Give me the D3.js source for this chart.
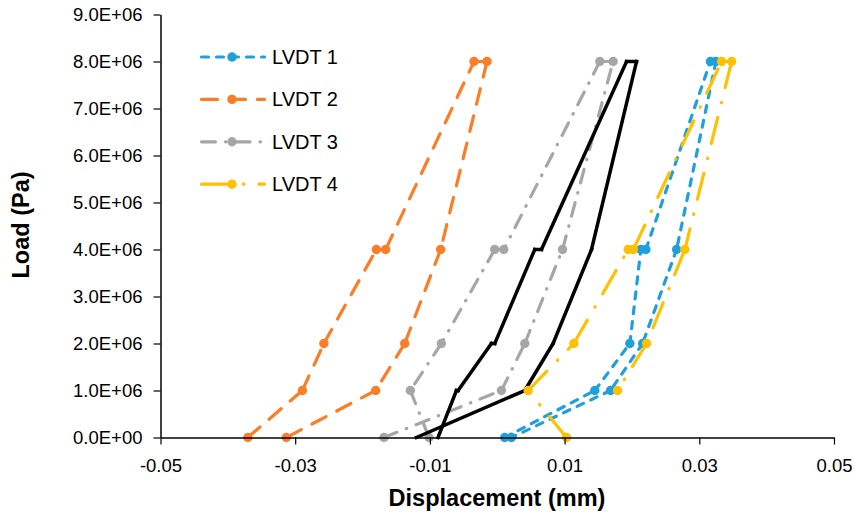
<!DOCTYPE html>
<html>
<head>
<meta charset="utf-8">
<script src="https://cdn.jsdelivr.net/npm/d3@7"></script>
<style>
  body { margin: 0; background: #fff; }
  svg { display: block; font-family: "Liberation Sans", Arial, sans-serif; }
</style>
</head>
<body>
<div id="chart"></div>
<script>
(function(){

  // loads in Pa (loading then unloading, holds repeat the value)
  var loadA = [0, 1e6, 2e6, 4e6, 4e6, 8e6, 8e6, 4e6, 2e6, 1e6, 0];
  var loadB = [0, 1e6, 2e6, 4e6, 4e6, 8e6, 8e6, 4e6, 2e6, 1e6];
  var loadC = [0, 1e6, 2e6, 4e6, 8e6, 8e6, 4e6, 4e6, 2e6, 1e6, 0];
  var loadBlack = [0, 1e6, 2e6, 4e6, 8e6, 8e6, 4e6, 4e6, 2e6, 2e6, 1e6, 1e6, 0];

  // displacement in mm
  var lvdt1 = [0.00111, 0.01449, 0.01969, 0.02132, 0.02207, 0.03165, 0.03247, 0.02663, 0.02158, 0.01682, 0.00211];
  var lvdt2 = [-0.03703, -0.02894, -0.02574, -0.01795, -0.01657, -0.00345, -0.00152, -0.00840, -0.01374, -0.01805, -0.03132];
  var lvdt3 = [-0.01682, 0.00062, 0.00409, 0.00969, 0.01721, 0.01523, 0.00097, -0.00037, -0.00829, -0.01290, -0.01013];
  var lvdt4 = [0.01028, 0.00458, 0.01137, 0.01944, 0.02021, 0.03331, 0.03480, 0.02786, 0.02217, 0.01786];
  var blackLine = [-0.01201, 0.00409, 0.00829, 0.01400, 0.02068, 0.01920, 0.00657, 0.00557, -0.00037, -0.00086, -0.00582, -0.00606, -0.00880];

  var xTicks = [-0.05, -0.03, -0.01, 0.01, 0.03, 0.05];
  var yTicks = [0, 1e6, 2e6, 3e6, 4e6, 5e6, 6e6, 7e6, 8e6, 9e6];

  var series = [
    {name: "LVDT 1", x: lvdt1, y: loadA, color: "#1f9fdb", dash: "7,8", marker: true},
    {name: "LVDT 2", x: lvdt2, y: loadA, color: "#fb7d27", dash: "16,12", marker: true},
    {name: "LVDT 3", x: lvdt3, y: loadC, color: "#a6a6a6", dash: "14,10,0.5,10", marker: true},
    {name: null, x: blackLine, y: loadBlack, color: "#000", dash: null, marker: false},
    {name: "LVDT 4", x: lvdt4, y: loadB, color: "#ffc000", dash: "27,15,0.5,15", marker: true}
  ];

  var width = 854, height = 517;
  var left = 160.5, right = 834, top = 14.5, bottom = 437.5;

  var svg = d3.select("#chart").append("svg")
    .attr("width", width)
    .attr("height", height);

  svg.append("rect").attr("width", width).attr("height", height).attr("fill", "#fff");

  var x = d3.scaleLinear().domain([-0.05, 0.05]).range([left, right]);
  var y = d3.scaleLinear().domain([0, 9e6]).range([bottom, top]);

  function sci(v){
    var s = v.toExponential(1).split("e");
    var e = parseInt(s[1]);
    var es = (e < 0 ? "-" : "+") + (Math.abs(e) < 10 ? "0" : "") + Math.abs(e);
    return s[0] + "E" + es;
  }

  var line = d3.line().x(function(d){ return x(d[0]); }).y(function(d){ return y(d[1]); });

  // each segment drawn alone so the dash pattern restarts at every point
  series.forEach(function(s){
    var g = svg.append("g");
    for (var i = 0; i < s.x.length - 1; i++){
      g.append("path")
        .attr("d", line([[s.x[i], s.y[i]], [s.x[i+1], s.y[i+1]]]))
        .attr("fill", "none")
        .attr("stroke", s.color)
        .attr("stroke-width", s.marker ? 3.2 : 3.5)
        .attr("stroke-linecap", s.dash ? "round" : "square")
        .attr("stroke-dasharray", s.dash);
    }
    if (s.marker){
      g.selectAll("circle")
        .data(s.x.map(function(v, i){ return [v, s.y[i]]; }))
        .enter().append("circle")
        .attr("cx", function(d){ return x(d[0]); })
        .attr("cy", function(d){ return y(d[1]); })
        .attr("r", 4.7)
        .attr("fill", s.color);
    }
  });

  var xAxis = svg.append("g")
    .attr("transform", "translate(0," + bottom + ")")
    .call(d3.axisBottom(x).tickValues(xTicks).tickSize(7).tickSizeOuter(0)
      .tickFormat(function(d){ return d.toFixed(2); }));

  var yAxis = svg.append("g")
    .attr("transform", "translate(" + left + ",0)")
    .call(d3.axisLeft(y).tickValues(yTicks).tickSize(7).tickSizeOuter(0).tickFormat(sci));

  [xAxis, yAxis].forEach(function(a){
    a.select(".domain").attr("stroke", "#000").attr("stroke-width", 1.5);
    a.selectAll(".tick line").attr("stroke", "#000").attr("stroke-width", 1.2);
    a.selectAll(".tick text").attr("fill", "#000").attr("font-size", 18.5)
      .attr("font-family", "Liberation Sans, Arial, sans-serif");
  });
  xAxis.selectAll(".tick text").attr("y", 34).attr("dy", 0);
  yAxis.selectAll(".tick text").attr("x", -18);

  svg.append("text")
    .attr("x", 497)
    .attr("y", 506)
    .attr("text-anchor", "middle")
    .attr("font-size", 23.5)
    .attr("font-weight", "bold")
    .text("Displacement (mm)");

  svg.append("text")
    .attr("transform", "translate(29,225) rotate(-90)")
    .attr("text-anchor", "middle")
    .attr("font-size", 23.5)
    .attr("font-weight", "bold")
    .text("Load (Pa)");

  // legend
  var legend = svg.append("g");
  var rows = series.filter(function(s){ return s.name; });
  rows.forEach(function(s, i){
    var ly = 57 + i * 42.4;
    legend.append("line")
      .attr("x1", 201.5).attr("x2", 264.5)
      .attr("y1", ly).attr("y2", ly)
      .attr("stroke", s.color)
      .attr("stroke-width", 3.2)
      .attr("stroke-linecap", "round")
      .attr("stroke-dasharray", s.dash);
    legend.append("circle")
      .attr("cx", 232).attr("cy", ly).attr("r", 4.7).attr("fill", s.color);
    legend.append("text")
      .attr("x", 272)
      .attr("y", ly + 7)
      .attr("font-size", 20)
      .attr("fill", "#000")
      .text(s.name);
  });

})();
</script>
</body>
</html>
